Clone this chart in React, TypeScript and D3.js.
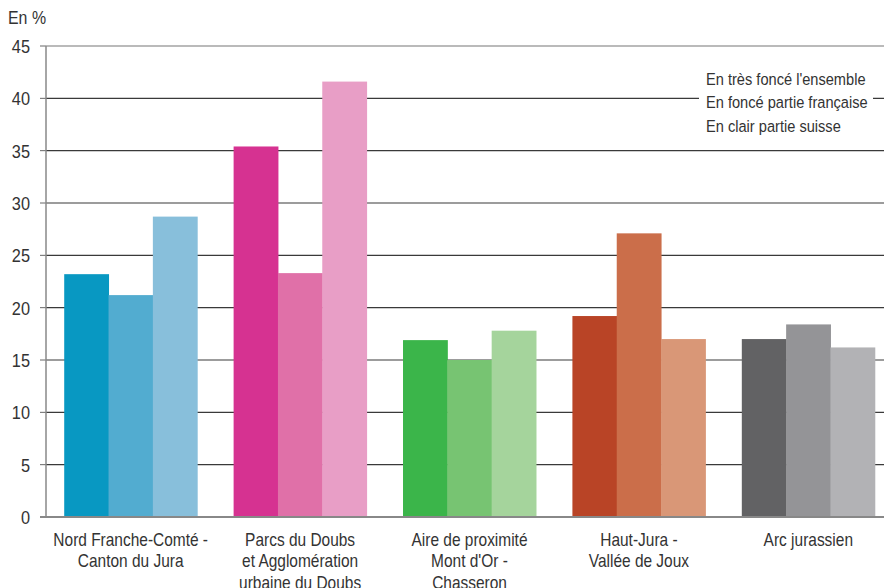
import React from "react";
import * as d3 from "d3";

const categories = [
  ["Nord Franche-Comté -", "Canton du Jura"],
  ["Parcs du Doubs", "et Agglomération", "urbaine du Doubs"],
  ["Aire de proximité", "Mont d'Or -", "Chasseron"],
  ["Haut-Jura -", "Vallée de Joux"],
  ["Arc jurassien"],
];
const seriesKeys = ["ensemble", "francaise", "suisse"];
const ensemble = [23.2, 35.4, 16.9, 19.2, 17.0];
const francaise = [21.2, 23.3, 15.0, 27.1, 18.4];
const suisse = [28.7, 41.6, 17.8, 17.0, 16.2];
const colors = [
  ["#0898c2", "#52acd0", "#88bfdb"],
  ["#d63291", "#e070a8", "#e89ec6"],
  ["#3bb54a", "#77c472", "#a5d49c"],
  ["#b94426", "#cb6e4a", "#d99777"],
  ["#626264", "#949497", "#b2b2b5"],
];
const yTicks = [0, 5, 10, 15, 20, 25, 30, 35, 40, 45];
const legendLines = [
  "En très foncé l'ensemble",
  "En foncé partie française",
  "En clair partie suisse",
];

const W = 884;
const H = 588;
const left = 46;
const top = 46;
const bottom = 517;
const font = "'Liberation Sans', Arial, sans-serif";
const SX = 0.86;

function CText({
  x,
  y,
  size,
  anchor = "start",
  dy,
  children,
}: {
  x: number;
  y: number;
  size: number;
  anchor?: string;
  dy?: string;
  children: React.ReactNode;
}) {
  return (
    <g transform={`translate(${x},${y}) scale(${SX},1)`}>
      <text x={0} y={0} dy={dy} textAnchor={anchor} fontSize={size} fill="#333">
        {children}
      </text>
    </g>
  );
}

export default function App() {
  const values = [ensemble, francaise, suisse];
  const y = d3.scaleLinear().domain([0, 45]).range([bottom, top]);
  const x0 = d3
    .scaleBand<number>()
    .domain(d3.range(categories.length))
    .range([left, left + 5 * 169.4])
    .paddingInner(0.215)
    .paddingOuter(0.1075);
  const x1 = d3
    .scaleBand<string>()
    .domain(seriesKeys)
    .range([0, x0.bandwidth()])
    .padding(0);

  return (
    <svg
      width={W}
      height={H}
      style={{ position: "absolute", left: 0, top: 0, background: "#fff" }}
      fontFamily={font}
    >
      <CText x={8} y={24} size={18.5}>
        En %
      </CText>
      {yTicks.map((t) => (
        <g key={t}>
          {t > 0 && (
            <line
              x1={left}
              x2={W}
              y1={y(t)}
              y2={y(t)}
              stroke={t === 45 ? "#777" : "#3a3a3a"}
              strokeWidth={1.1}
            />
          )}
          <line x1={40} x2={left} y1={y(t)} y2={y(t)} stroke="#666" strokeWidth={1} />
          <CText x={30} y={y(t)} dy="0.36em" anchor="end" size={19}>
            {t}
          </CText>
        </g>
      ))}
      <rect x={699} y={66} width={174} height={72} fill="#fff" />
      {legendLines.map((l, i) => (
        <CText key={i} x={706} y={84.5 + i * 23.5} size={17}>
          {l}
        </CText>
      ))}
      {categories.map((cat, ci) => (
        <g key={ci} transform={`translate(${x0(ci)},0)`}>
          {seriesKeys.map((k, si) => (
            <rect
              key={k}
              x={x1(k)}
              y={y(values[si][ci])}
              width={x1.bandwidth() + 0.5}
              height={bottom - y(values[si][ci])}
              fill={colors[ci][si]}
            />
          ))}
          {cat.map((line, li) => (
            <CText
              key={li}
              x={x0.bandwidth() / 2}
              y={545.5 + li * 21.5}
              anchor="middle"
              size={18}
            >
              {line}
            </CText>
          ))}
        </g>
      ))}
      <line x1={left} x2={left} y1={top} y2={bottom} stroke="#888" strokeWidth={1.5} />
      <line x1={40} x2={W} y1={bottom} y2={bottom} stroke="#888" strokeWidth={2} />
    </svg>
  );
}
